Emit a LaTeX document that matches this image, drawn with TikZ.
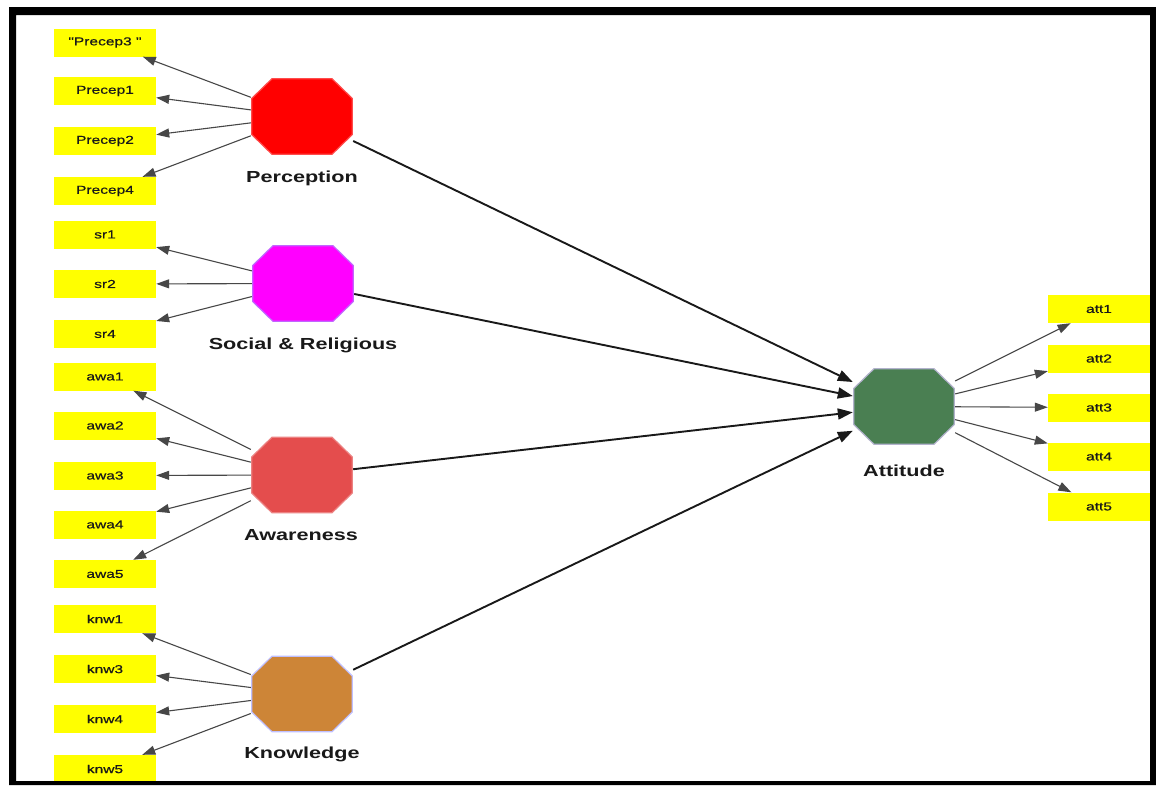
\documentclass[tikz,border=0pt]{standalone}
\usepackage{fontspec}
\usetikzlibrary{arrows.meta}
\newfontfamily\itemfont[FakeStretch=1.35,FakeBold=0.6]{Liberation Sans}
\newfontfamily\latentfont[FakeStretch=1.35]{Liberation Sans}
\definecolor{itemyellow}{HTML}{FFFF00}
\definecolor{percred}{HTML}{FF0000}
\definecolor{socmag}{HTML}{FF00FF}
\definecolor{awared}{HTML}{E44D4D}
\definecolor{knwbrown}{HTML}{CD8537}
\definecolor{attgreen}{HTML}{4A7F52}
\begin{document}
\begin{tikzpicture}[x=1pt,y=-1pt,
  item/.style={rectangle, fill=itemyellow, minimum width=102pt, minimum height=28pt,
    inner sep=0pt, font=\itemfont\fontsize{11.5}{12}\selectfont, text=black!90},
  octa/.style 2 args={rectangle, minimum width=102pt, minimum height=77pt, inner sep=0pt,
    path picture={
      \filldraw[fill=#1, draw=#2, line width=1.2pt, shift={(path picture bounding box.center)}]
        (-30,-37.8) -- (30,-37.8) -- (50.3,-18) -- (50.3,18) -- (30,37.8) -- (-30,37.8)
        -- (-50.3,18) -- (-50.3,-18) -- cycle;}},
  latlabel/.style={font=\latentfont\bfseries\fontsize{16}{18}\selectfont, text=black!90, inner sep=0pt},
  loading/.style={draw=black!72, line width=1.1pt, -{Triangle[length=13pt,width=9pt]}},
  path/.style={draw=black!90, line width=1.9pt, -{Triangle[length=15pt,width=11pt]}}
]
\useasboundingbox (0,0) rectangle (1156,785);
\fill[white] (0,0) rectangle (1156,785);

% latent variables
\node[octa={percred}{percred!70!white}]   (perc) at (302,116.5) {};
\node[octa={socmag}{socmag!60!blue!60!white}] (soc) at (303,283.5) {};
\node[octa={awared}{awared!70!white}]     (awa)  at (302,475) {};
\node[octa={knwbrown}{blue!25!white}]     (knw)  at (302,694) {};
\node[octa={attgreen}{blue!20!gray!50!white}] (att) at (904,406.5) {};

\node[latlabel] (perc-l) at (302,178) {Perception};
\node[latlabel] (soc-l)  at (303,345) {Social \& Religious};
\node[latlabel] (awa-l)  at (301,535) {Awareness};
\node[latlabel] (knw-l)  at (302,754) {Knowledge};
\node[latlabel] (att-l)  at (904,471) {Attitude};

% indicators
\node[item] (p3) at (105,42.5) {"Precep3 "};
\node[item] (p1) at (105,91) {Precep1};
\node[item] (p2) at (105,141) {Precep2};
\node[item] (p4) at (105,191) {Precep4};
\node[item] (sr1) at (105,234.5) {sr1};
\node[item] (sr2) at (105,284) {sr2};
\node[item] (sr4) at (105,334) {sr4};
\node[item] (a1) at (105,376.5) {awa1};
\node[item] (a2) at (105,425.5) {awa2};
\node[item] (a3) at (105,475.5) {awa3};
\node[item] (a4) at (105,524.5) {awa4};
\node[item] (a5) at (105,574) {awa5};
\node[item] (k1) at (105,619) {knw1};
\node[item] (k3) at (105,669) {knw3};
\node[item] (k4) at (105,719) {knw4};
\node[item] (k5) at (105,769) {knw5};
\node[item] (t1) at (1099,309) {att1};
\node[item] (t2) at (1099,358.5) {att2};
\node[item] (t3) at (1099,407.5) {att3};
\node[item] (t4) at (1099,456.5) {att4};
\node[item] (t5) at (1099,506.5) {att5};

% outer loadings
\foreach \t in {p3,p1,p2,p4} \draw[loading] (perc) -- (\t);
\foreach \t in {sr1,sr2,sr4} \draw[loading] (soc) -- (\t);
\foreach \t in {a1,a2,a3,a4,a5} \draw[loading] (awa) -- (\t);
\foreach \t in {k1,k3,k4,k5} \draw[loading] (knw) -- (\t);
\foreach \t in {t1,t2,t3,t4,t5} \draw[loading] (att) -- (\t);

% structural paths
\foreach \s in {perc,soc,awa,knw} \draw[path] (\s) -- (att);

% frame
\fill[black, even odd rule] (9,7) rectangle (1156,785) (16,15) rectangle (1150,781);
\end{tikzpicture}
\end{document}
